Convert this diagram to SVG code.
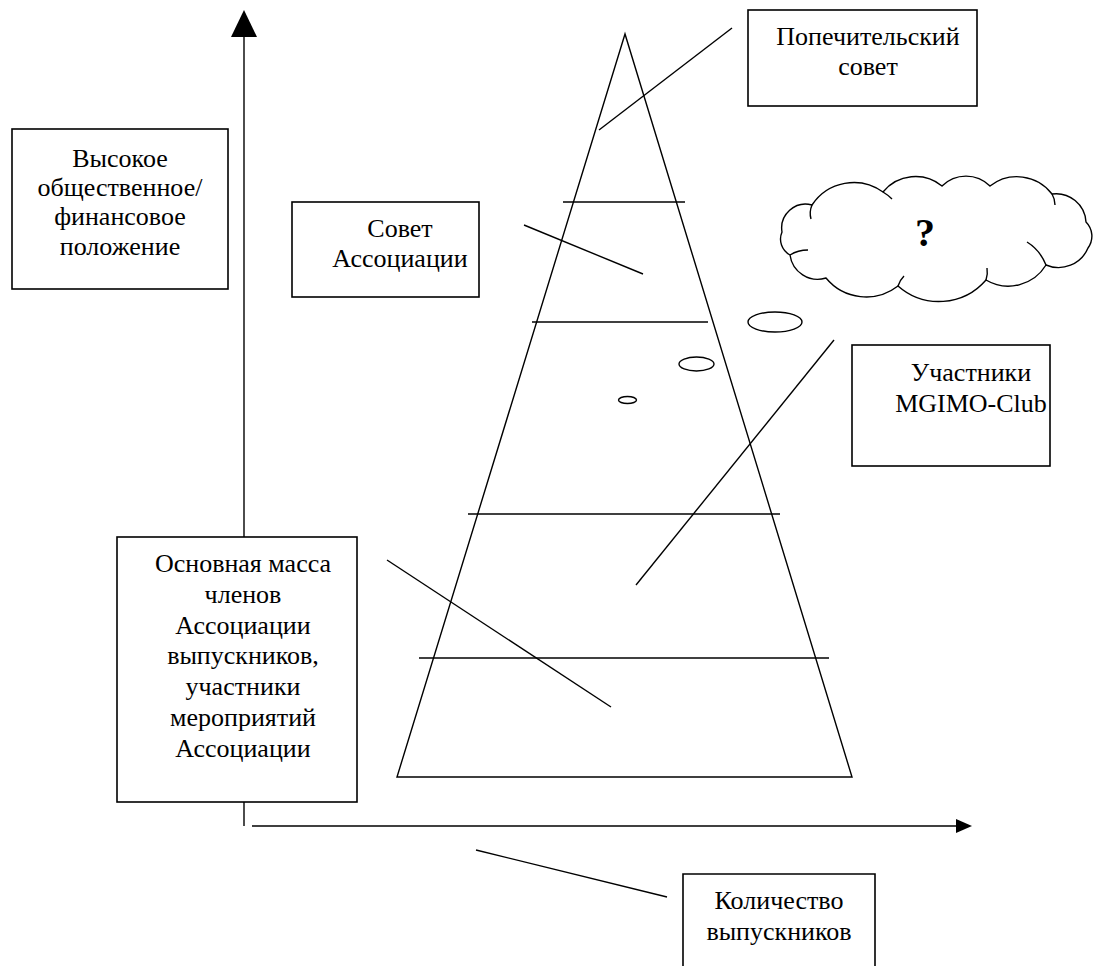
<svg xmlns="http://www.w3.org/2000/svg" width="1093" height="966" viewBox="0 0 1093 966">
<style>
.box{fill:#fff;stroke:#000;stroke-width:1.6}
.ln{stroke:#000;stroke-width:1.4;fill:none}
.t{font-family:"Liberation Serif","Times New Roman",serif;font-size:26px;fill:#000;text-anchor:middle}
.q{font-family:"Liberation Serif","Times New Roman",serif;font-size:40px;font-weight:bold;fill:#000;text-anchor:middle}
</style>
<rect width="1093" height="966" fill="#fff"/>
<g id="axes">
<line class="ln" x1="244" y1="826" x2="244" y2="34"/>
<polygon points="244,10 231,37 257,37" fill="#000"/>
<line class="ln" x1="252" y1="826" x2="958" y2="826"/>
<polygon points="972,826 956,819 956,833" fill="#000"/>
</g>
<g id="pyramid">
<polygon class="ln" points="625,34 397,777 852,777"/>
<line class="ln" x1="563" y1="202" x2="685" y2="202"/>
<line class="ln" x1="532" y1="322" x2="708" y2="322"/>
<line class="ln" x1="468" y1="514" x2="780" y2="514"/>
<line class="ln" x1="419" y1="658" x2="829" y2="658"/>
</g>
<g id="connectors">
<line class="ln" x1="732" y1="28" x2="599" y2="130"/>
<line class="ln" x1="524" y1="225" x2="643" y2="274"/>
<line class="ln" x1="834" y1="340" x2="636" y2="585"/>
<line class="ln" x1="387" y1="560" x2="611" y2="707"/>
<line class="ln" x1="476" y1="850" x2="667" y2="897"/>
</g>
<g id="thought-bubbles">
<ellipse class="ln" cx="775" cy="322" rx="27" ry="10"/>
<ellipse class="ln" cx="696.5" cy="364" rx="17.5" ry="7"/>
<ellipse class="ln" cx="627.5" cy="400" rx="9" ry="3.5"/>
</g>
<g id="cloud">
<path class="ln" fill="#fff" d="M812,205 A50,50 0 0 1 883,192 A42,42 0 0 1 942,186 A34,34 0 0 1 990,186 A44,44 0 0 1 1052,194 A30,30 0 0 1 1086,222 A20,20 0 0 1 1088,248 A32,32 0 0 1 1046,265 A44,44 0 0 1 986,280 A62,62 0 0 1 898,286 A52,52 0 0 1 826,278 A28,28 0 0 1 790,255 A18,18 0 0 1 782,232 A24,24 0 0 1 812,205 Z" style="fill:#fff"/>
<path class="ln" d="M812,205 Q809,212 811,219"/>
<path class="ln" d="M883,192 Q888,195 892,199"/>
<path class="ln" d="M1052,194 Q1055,199 1055,205"/>
<path class="ln" d="M1046,265 Q1040,250 1027,242"/>
<path class="ln" d="M986,280 Q988,274 987,268"/>
<path class="ln" d="M898,286 Q900,280 904,276"/>
<path class="ln" d="M790,255 Q798,250 808,250"/>
<text class="q" x="925" y="246">?</text>
</g>
<g id="node-popechitelsky">
<rect class="box" x="748" y="10" width="229" height="96"/>
<text class="t" x="868" y="45">Попечительский</text>
<text class="t" x="868" y="75">совет</text>
</g>
<g id="node-vysokoe">
<rect class="box" x="12" y="129" width="216" height="160"/>
<text class="t" x="120" y="167">Высокое</text>
<text class="t" x="120" y="196">общественное/</text>
<text class="t" x="120" y="225">финансовое</text>
<text class="t" x="120" y="255">положение</text>
</g>
<g id="node-sovet">
<rect class="box" x="292" y="202" width="187" height="95"/>
<text class="t" x="400" y="237">Совет</text>
<text class="t" x="400" y="267">Ассоциации</text>
</g>
<g id="node-uchastniki">
<rect class="box" x="852" y="345" width="198" height="121"/>
<text class="t" x="971" y="381">Участники</text>
<text class="t" x="971" y="412">MGIMO-Club</text>
</g>
<g id="node-osnovnaya">
<rect class="box" x="117" y="537" width="240" height="265"/>
<text class="t" x="243" y="572">Основная масса</text>
<text class="t" x="243" y="603">членов</text>
<text class="t" x="243" y="634">Ассоциации</text>
<text class="t" x="243" y="664">выпускников,</text>
<text class="t" x="243" y="695">участники</text>
<text class="t" x="243" y="726">мероприятий</text>
<text class="t" x="243" y="757">Ассоциации</text>
</g>
<g id="node-kolichestvo">
<path class="box" d="M683,970 L683,874 L875,874 L875,970"/>
<text class="t" x="779" y="909">Количество</text>
<text class="t" x="779" y="940">выпускников</text>
</g>
</svg>
